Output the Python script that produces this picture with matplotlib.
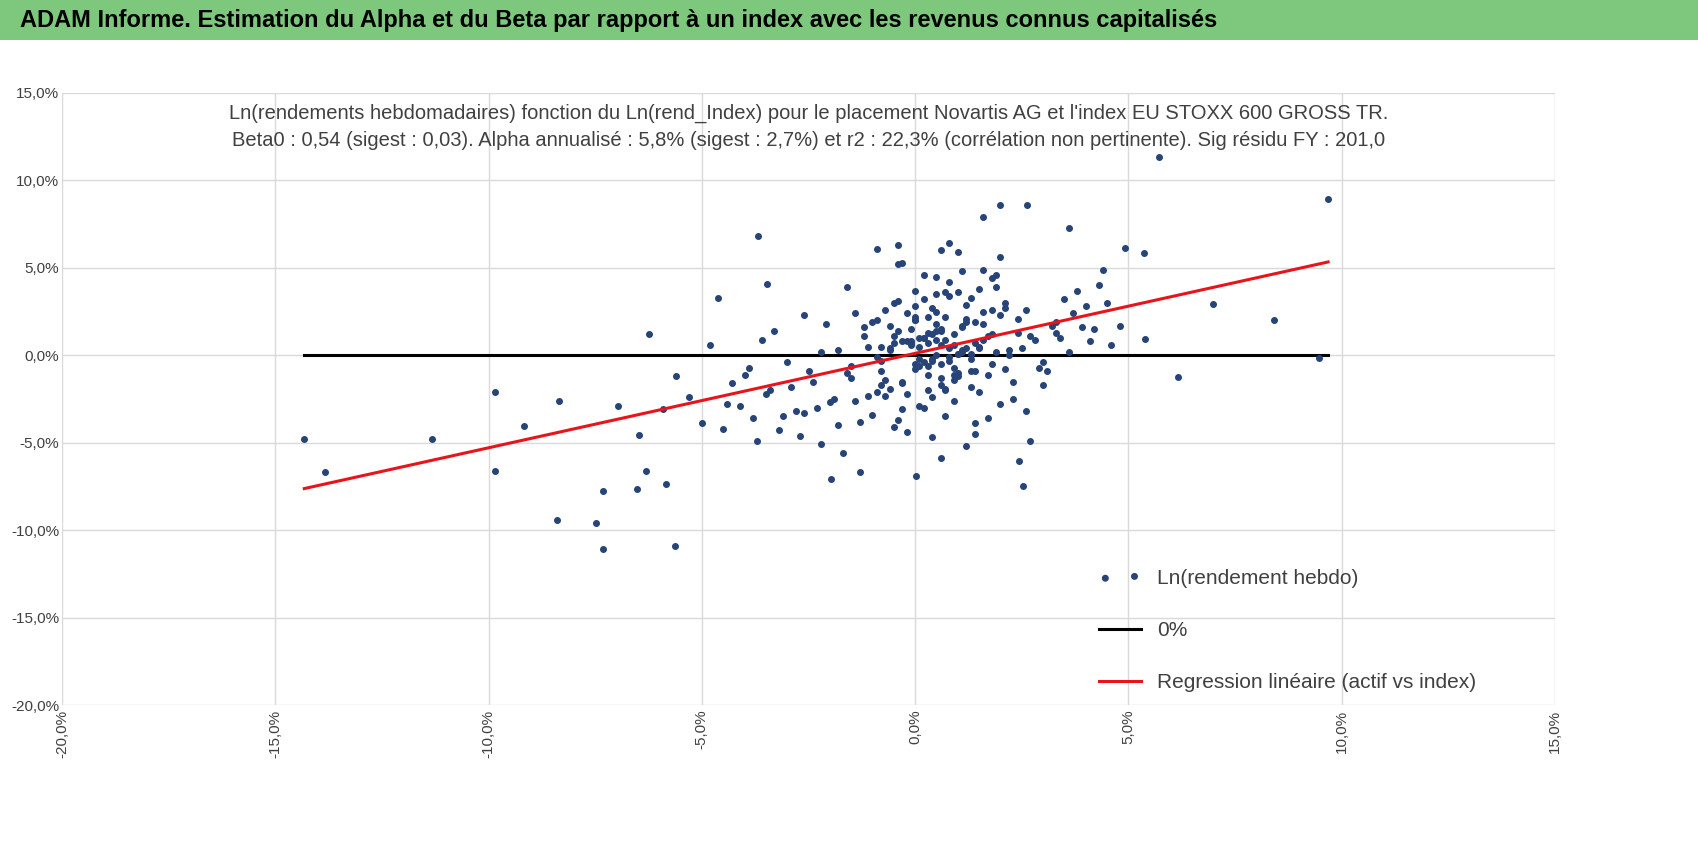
import matplotlib.pyplot as plt
import matplotlib.patches as mpatches
from matplotlib.ticker import FuncFormatter

plt.rcParams['font.family'] = ['Liberation Sans Narrow', 'Liberation Sans', 'DejaVu Sans']

# weekly log returns (%) : index (x) vs asset (y)
index_ret = [
    -14.32, -13.83, -11.32, -9.86, -9.84, -9.16, -8.35, -8.40, -7.47, -7.31, -7.31, -6.96,
    -6.24, -6.47, -6.31, -6.52, -5.85, -5.62, -4.62, -3.69, -3.48, 5.71, 9.68, 6.98, 8.42,
    9.47, 6.17, 4.92, 5.36, 5.38, 2.62, 2.0, 1.6, 3.6, -0.9, -0.4, 2.44, 2.53, 0.02, -1.3,
    -1.97, -5.9, -5.6, -5.3, -5.0, -4.8, -4.5, -4.3, -4.1, -3.9, -3.7, -3.5, -3.3, -3.1,
    -4.4, -4.0, -3.8, -3.6, -3.4, -3.2, -3.0, -2.8, -2.6, -2.4, -2.2, -2.0, -1.8,
    -2.9, -2.7, -2.5, -2.3, -2.1, -1.9, -1.7, -1.5, -1.3, -1.1, -0.9, -0.7,
    -2.6, -2.2, -1.8, -1.6, -1.4, -1.2, -1.0, -0.8, -0.6, -0.4, -0.2, 0.0,
    -1.5, -1.1, -0.9, -0.7, -0.5, -0.3, -0.1, 0.1, 0.3, 0.5, 0.7, 0.9,
    -1.2, -0.8, -0.6, -0.4, -0.2, 0.0, 0.2, 0.4, 0.6, 0.8, 1.0, 1.2,
    -0.9, -0.5, -0.3, -0.1, 0.1, 0.3, 0.5, 0.7, 0.9, 1.1, 1.3, 1.5,
    -0.6, -0.2, 0.0, 0.2, 0.4, 0.6, 0.8, 1.0, 1.2, 1.4, 1.6, 1.8,
    -0.3, 0.1, 0.3, 0.5, 0.7, 0.9, 1.1, 1.3, 1.5, 1.7, 1.9, 2.1,
    0.0, 0.4, 0.6, 0.8, 1.0, 1.2, 1.4, 1.6, 1.8, 2.0, 2.2, 2.4,
    0.2, 0.5, 0.9, 1.3, 1.7, 2.1, 2.5, 2.9, 3.3, 3.7, 4.1, 4.5,
    -0.5, 0.3, 0.7, 1.1, 1.5, 1.9, 2.3, 2.7, 3.1, 3.5, 3.9, 4.3,
    -1.0, -0.3, 0.4, 1.0, 1.4, 1.8, 2.2, 2.6, 3.0, 3.4, 3.8, 4.2,
    -0.8, 0.0, 0.6, 1.2, 1.6, 2.0, 2.4, 2.8, 3.2, 3.6, 4.0, 4.6,
    -1.4, -0.6, 0.2, 0.8, 1.4, 2.0, 2.6, 3.0, 1.0, 0.5, -0.2, 0.1,
    0.4, 0.7, 1.1, 0.9, 0.3, 0.6, 1.3, 0.2, -0.1, 0.8, 1.5, 0.0,
    -0.7, 0.5, 1.7, 2.3, -1.6, 1.9, 0.6, -0.4, 2.7, 3.3, 4.4, 4.8,
    0.1, 0.6, 1.1, 0.4, 0.9, -0.3, 1.4, 0.7, 0.2, 1.2, -0.5, 0.8,
    1.6, 0.3, -0.1, 1.0, 0.5, 1.3, -0.8, 0.0, 1.8, 0.6, 2.1, -0.4,
]
asset_ret = [
    -4.76, -6.65, -4.76, -2.12, -6.59, -4.07, -2.64, -9.40, -9.57, -7.74, -11.1, -2.92,
    1.20, -4.58, -6.59, -7.62, -7.34, -10.9, 3.27, 6.82, 4.07, 11.35, 8.94, 2.92, 2.00,
    -0.17, -1.26, 6.13, 5.85, 0.92, 8.60, 8.60, 7.90, 7.30, 6.10, 6.30, -6.07, -7.50, -6.93, -6.65,
    -7.10, -3.1, -1.2, -2.4, -3.9, 0.6, -4.2, -1.6, -2.9, -0.7, -4.9, -2.2, 1.4, -3.5,
    -2.8, -1.1, -3.6, 0.9, -2.0, -4.3, -0.4, -3.2, 2.3, -1.5, -5.1, -2.7, 0.3,
    -1.8, -4.6, -0.9, -3.0, 1.8, -2.5, -5.6, -1.3, -3.8, 0.5, -2.1, 2.6,
    -3.3, 0.2, -4.0, -1.0, -2.6, 1.1, -3.4, -0.3, -1.9, 3.1, -4.4, -0.8,
    -0.6, -2.3, 2.0, -1.4, 0.7, -3.1, 1.5, -0.2, -2.0, 0.9, 3.6, -1.1,
    1.6, -1.7, 0.4, -3.7, 2.4, -0.5, 1.0, -2.4, 0.6, 4.2, -1.2, 1.9,
    -0.1, 3.0, -1.6, 0.8, -2.9, 1.3, 0.0, 2.2, -0.7, 1.7, -1.8, 0.5,
    0.3, -2.2, 2.8, -0.4, 1.2, -1.3, 3.4, 0.1, 2.1, -0.9, 0.9, 2.6,
    -1.5, 1.0, -0.6, 2.5, -1.9, 0.6, 1.6, -0.2, 3.8, 1.1, 0.2, -0.8,
    2.0, -0.3, 1.4, 0.4, -1.0, 2.9, 0.7, 1.8, -0.5, 2.3, 0.0, 1.3,
    -3.0, 4.5, -2.6, 3.3, -1.1, 2.7, 0.4, -0.7, 1.9, 2.4, 0.8, 3.0,
    -4.1, 2.2, -3.5, 4.8, -2.1, 3.9, -1.5, 1.1, -0.9, 3.2, 1.6, 4.0,
    1.9, 5.3, -4.7, 5.9, -3.9, 4.4, 0.3, 2.6, -0.4, 1.0, 3.7, 1.5,
    -0.9, 3.7, 6.0, -5.2, 4.9, -2.8, 2.1, 0.9, 1.7, 0.2, 2.8, 0.6,
    2.4, 1.7, 4.6, 6.4, -4.5, 5.6, -3.2, -1.7, 0.1, 1.4, 0.8, 0.5,
    -0.2, 0.9, 0.3, 1.2, 0.7, -0.5, 0.1, 1.0, 0.6, -0.1, 0.4, 2.2,
    -2.3, 3.5, -3.6, -2.5, 3.9, 4.6, -5.9, 5.2, -4.9, 1.3, 4.9, 1.7,
    -0.6, 1.5, 0.2, 2.7, -1.4, 0.8, 1.9, -2.0, 3.2, 0.4, 1.1, -0.3,
    2.5, -1.1, 0.7, 3.6, 1.8, -0.9, 0.5, 2.0, 1.2, -1.7, 3.0, 1.4,
]

beta, alpha = 0.54, 0.11
x_lo, x_hi = min(index_ret), max(index_ret)

fig = plt.figure(figsize=(16.98, 8.55), dpi=100)
fig.patches.append(mpatches.Rectangle((0, 1 - 40 / 855), 1, 40 / 855, transform=fig.transFigure,
                                      facecolor='#7dc87d', edgecolor='none'))
fig.text(0.012, 1 - 20 / 855, "ADAM Informe. Estimation du Alpha et du Beta par rapport à un index avec les revenus connus capitalisés",
         fontsize=17, fontweight='bold', va='center', ha='left')

ax = fig.add_axes([62 / 1698, 1 - 705 / 855, (1555 - 62) / 1698, (705 - 93) / 855])
ax.scatter(index_ret, asset_ret, s=16, color='#264478', zorder=3, label='Ln(rendement hebdo)')
ax.plot([x_lo, x_hi], [0, 0], color='black', lw=2.2, zorder=2, label='0%')
ax.plot([x_lo, x_hi], [alpha + beta * x_lo, alpha + beta * x_hi], color='#e8141b', lw=2.2, zorder=4,
        label='Regression linéaire (actif vs index)')

ax.set_xlim(-20, 15)
ax.set_ylim(-20, 15)
ax.set_xticks(range(-20, 16, 5))
ax.set_yticks(range(-20, 16, 5))
fmt = FuncFormatter(lambda v, p: f"{v:.1f}%".replace('.', ','))
ax.xaxis.set_major_formatter(fmt)
ax.yaxis.set_major_formatter(fmt)
ax.tick_params(axis='x', rotation=90, labelsize=11, length=0, colors='#404040')
ax.tick_params(axis='y', labelsize=11, length=0, colors='#404040', pad=2)
ax.grid(True, color='#d9d9d9', lw=1)
ax.set_axisbelow(True)
for s in ax.spines.values():
    s.set_visible(False)

ax.set_title("Ln(rendements hebdomadaires) fonction du Ln(rend_Index) pour le placement Novartis AG et l'index EU STOXX 600 GROSS TR.\n"
             "Beta0 : 0,54 (sigest : 0,03). Alpha annualisé : 5,8% (sigest : 2,7%) et r2 : 22,3% (corrélation non pertinente). Sig résidu FY : 201,0",
             fontsize=14.5, color='#404040', y=0.9, linespacing=1.5)
ax.legend(loc='lower right', bbox_to_anchor=(0.96, -0.01), frameon=False, fontsize=15, scatterpoints=2,
          labelspacing=1.6, handlelength=2, labelcolor='#404040')

fig.savefig('out.png', dpi=100)
